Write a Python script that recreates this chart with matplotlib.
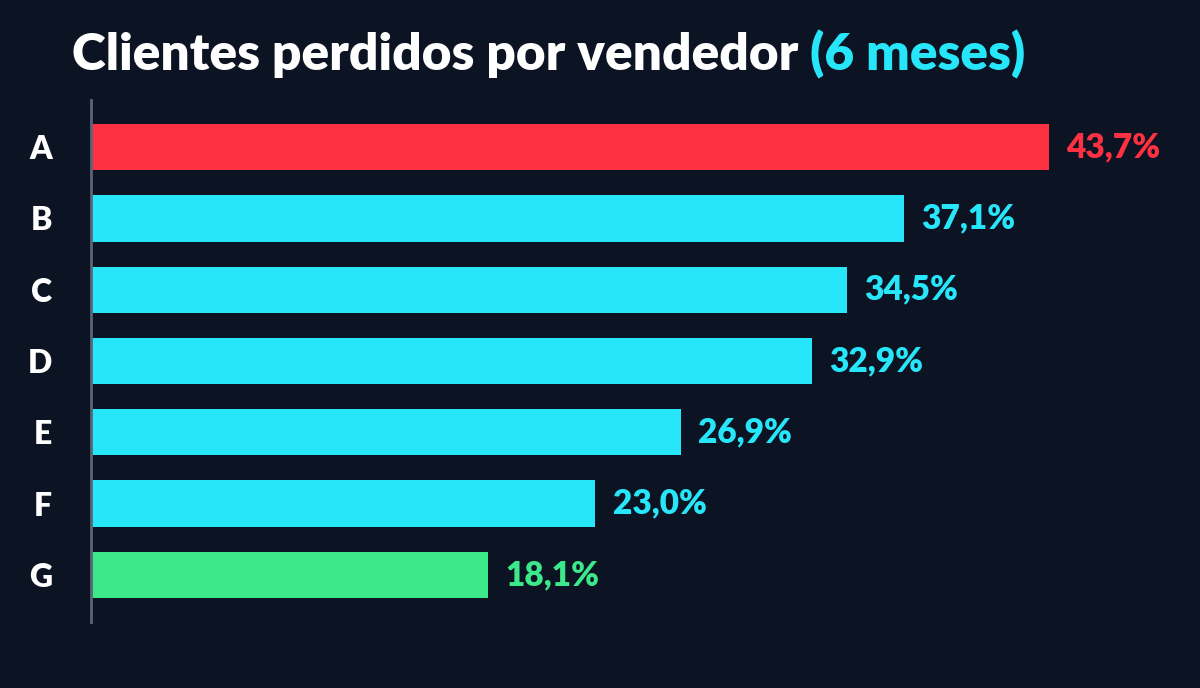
import matplotlib
matplotlib.use("Agg")
import matplotlib.pyplot as plt

plt.rcParams['font.family'] = ['Lato', 'DejaVu Sans']

vendedores = ["A", "B", "C", "D", "E", "F", "G"]
perdidos = [43.7, 37.1, 34.5, 32.9, 26.9, 23.0, 18.1]
etiquetas = ["43,7%", "37,1%", "34,5%", "32,9%", "26,9%", "23,0%", "18,1%"]

bg = "#0c1322"
cyan = "#27e6fa"
red = "#fe3142"
green = "#3ce88a"
colores = [red] + [cyan] * 5 + [green]

fig = plt.figure(figsize=(12, 6.88), dpi=100, facecolor=bg)
ax = fig.add_axes([91 / 1200, 1 - 622 / 688, 1 - 91 / 1200, (622 - 100) / 688])
ax.set_facecolor(bg)

pos = list(range(len(vendedores)))
ax.barh(pos, perdidos, height=0.65, color=colores, zorder=2)
for y, v, t, c in zip(pos, perdidos, etiquetas, colores):
    ax.text(v + 0.8, y, t, color=c, fontsize=24, fontweight='heavy',
            va='center', ha='left')

ax.set_xlim(0, 50.6)
ax.set_ylim(6.66, -0.66)
ax.set_yticks(pos)
ax.set_yticklabels(vendedores, color="white", fontsize=23, fontweight='heavy')
ax.tick_params(axis='y', length=0, pad=28)
ax.set_xticks([])
for s in ["top", "right", "bottom"]:
    ax.spines[s].set_visible(False)
ax.spines["left"].set_color("#5b6579")
ax.spines["left"].set_linewidth(2)

# titulo en dos colores
t1 = fig.text(72 / 1200, 1 - 70 / 688, "Clientes perdidos por vendedor ",
              color="white", fontsize=37, fontweight='heavy', va='baseline')
fig.canvas.draw()
bb = t1.get_window_extent()
fig.text(bb.x1 / 1200, 1 - 70 / 688, "(6 meses)", color=cyan, fontsize=37,
         fontweight='heavy', va='baseline')

fig.savefig("out.png", facecolor=bg)
